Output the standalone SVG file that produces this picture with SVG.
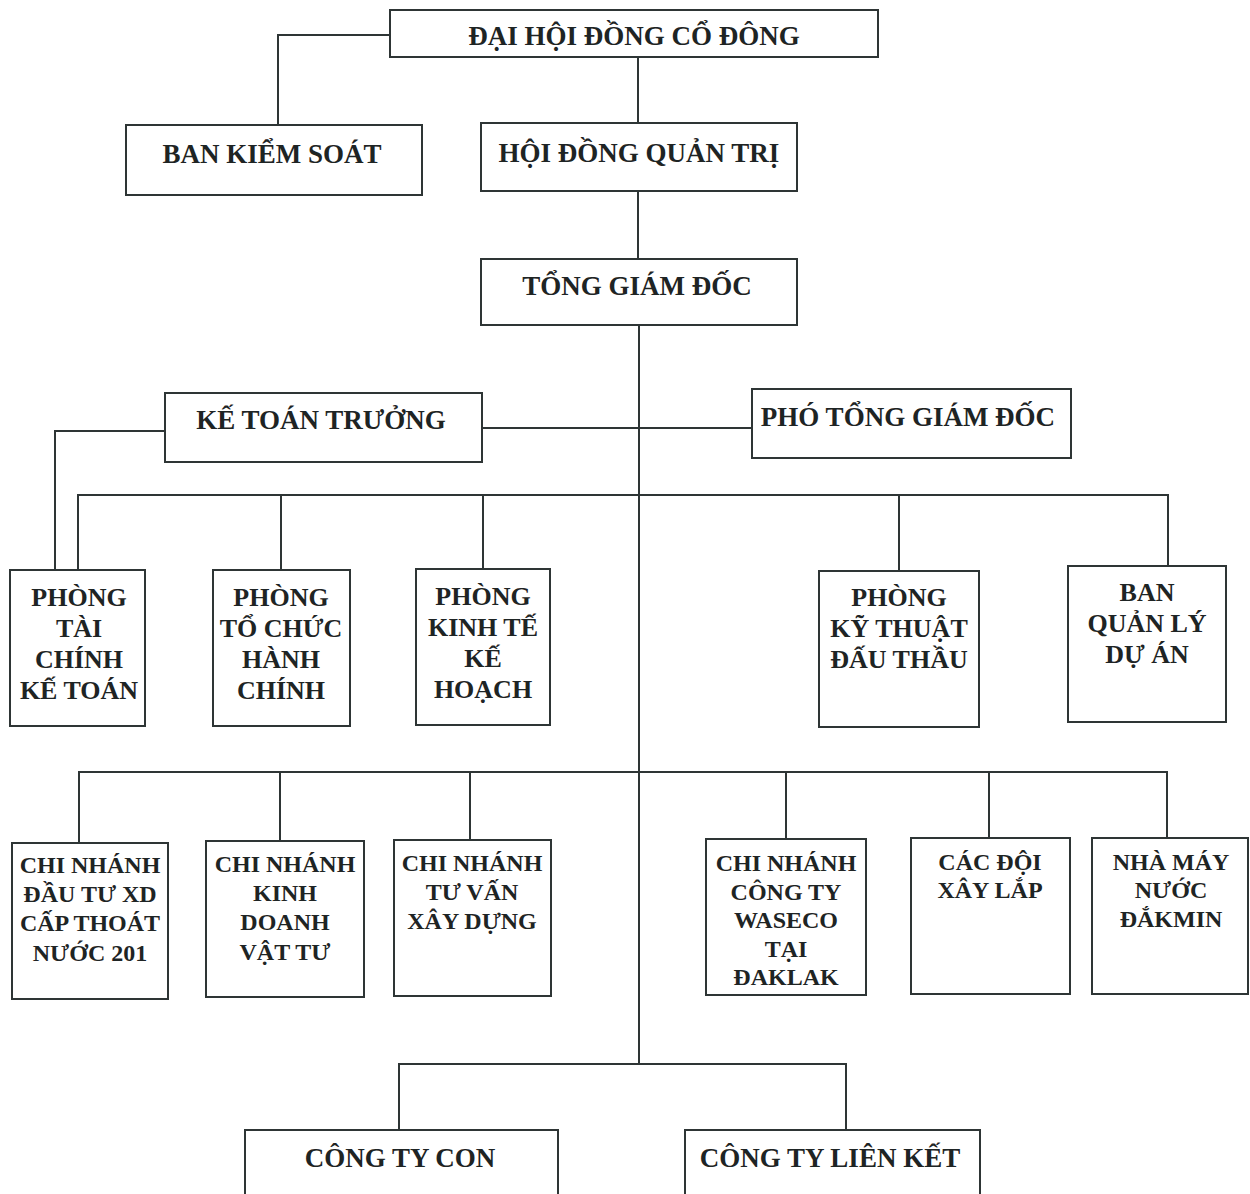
<svg xmlns="http://www.w3.org/2000/svg" width="1250" height="1194" viewBox="0 0 1250 1194">
<style>
.box{fill:#fff;stroke:#2e3535;stroke-width:2}
.ln{fill:none;stroke:#2e3535;stroke-width:2}
text{font-family:"Liberation Serif","Times New Roman",serif;font-weight:bold;fill:#1e2424;text-anchor:middle}
.t1{font-size:27px}
.t2{font-size:26px}
.t3{font-size:24px}
</style>
<rect width="1250" height="1194" fill="#fff"/>
<g id="connectors">
<polyline class="ln" points="390,35 278,35 278,125"/>
<line class="ln" x1="638" y1="57" x2="638" y2="123"/>
<line class="ln" x1="638" y1="191" x2="638" y2="259"/>
<line class="ln" x1="639" y1="325" x2="639" y2="1064"/>
<line class="ln" x1="482" y1="428" x2="752" y2="428"/>
<polyline class="ln" points="165,431 55,431 55,570"/>
<polyline class="ln" points="78,570 78,495 1168,495 1168,566"/>
<line class="ln" x1="281" y1="495" x2="281" y2="570"/>
<line class="ln" x1="483" y1="495" x2="483" y2="569"/>
<line class="ln" x1="899" y1="495" x2="899" y2="571"/>
<polyline class="ln" points="79,843 79,772 1167,772 1167,838"/>
<line class="ln" x1="280" y1="772" x2="280" y2="841"/>
<line class="ln" x1="470" y1="772" x2="470" y2="840"/>
<line class="ln" x1="786" y1="772" x2="786" y2="839"/>
<line class="ln" x1="989" y1="772" x2="989" y2="838"/>
<polyline class="ln" points="399,1130 399,1064 846,1064 846,1130"/>
</g>
<g id="dhdcd"><rect class="box" x="390" y="10" width="488" height="47"/><text class="t1" x="634" y="45">ĐẠI HỘI ĐỒNG CỔ ĐÔNG</text></g>
<g id="bks"><rect class="box" x="126" y="125" width="296" height="70"/><text class="t1" x="272" y="163">BAN KIỂM SOÁT</text></g>
<g id="hdqt"><rect class="box" x="481" y="123" width="316" height="68"/><text class="t1" x="639" y="162">HỘI ĐỒNG QUẢN TRỊ</text></g>
<g id="tgd"><rect class="box" x="481" y="259" width="316" height="66"/><text class="t1" x="637" y="295">TỔNG GIÁM ĐỐC</text></g>
<g id="ktt"><rect class="box" x="165" y="393" width="317" height="69"/><text class="t1" x="321" y="429">KẾ TOÁN TRƯỞNG</text></g>
<g id="ptgd"><rect class="box" x="752" y="389" width="319" height="69"/><text class="t1" x="908" y="426">PHÓ TỔNG GIÁM ĐỐC</text></g>
<g id="p-tckt"><rect class="box" x="10" y="570" width="135" height="156"/><text class="t2"><tspan x="79" y="606">PHÒNG</tspan><tspan x="79" y="637">TÀI</tspan><tspan x="79" y="668">CHÍNH</tspan><tspan x="79" y="699">KẾ TOÁN</tspan></text></g>
<g id="p-tchc"><rect class="box" x="213" y="570" width="137" height="156"/><text class="t2"><tspan x="281" y="606">PHÒNG</tspan><tspan x="281" y="637">TỔ CHỨC</tspan><tspan x="281" y="668">HÀNH</tspan><tspan x="281" y="699">CHÍNH</tspan></text></g>
<g id="p-ktkh"><rect class="box" x="416" y="569" width="134" height="156"/><text class="t2"><tspan x="483" y="605">PHÒNG</tspan><tspan x="483" y="636">KINH TẾ</tspan><tspan x="483" y="667">KẾ</tspan><tspan x="483" y="698">HOẠCH</tspan></text></g>
<g id="p-ktdt"><rect class="box" x="819" y="571" width="160" height="156"/><text class="t2"><tspan x="899" y="606">PHÒNG</tspan><tspan x="899" y="637">KỸ THUẬT</tspan><tspan x="899" y="668">ĐẤU THẦU</tspan></text></g>
<g id="bqlda"><rect class="box" x="1068" y="566" width="158" height="156"/><text class="t2"><tspan x="1147" y="601">BAN</tspan><tspan x="1147" y="632">QUẢN LÝ</tspan><tspan x="1147" y="663">DỰ ÁN</tspan></text></g>
<g id="cn-201"><rect class="box" x="12" y="843" width="156" height="156"/><text class="t3"><tspan x="90" y="873">CHI NHÁNH</tspan><tspan x="90" y="902">ĐẦU TƯ XD</tspan><tspan x="90" y="931">CẤP THOÁT</tspan><tspan x="90" y="961">NƯỚC 201</tspan></text></g>
<g id="cn-kdvt"><rect class="box" x="206" y="841" width="158" height="156"/><text class="t3"><tspan x="285" y="872">CHI NHÁNH</tspan><tspan x="285" y="901">KINH</tspan><tspan x="285" y="930">DOANH</tspan><tspan x="285" y="960">VẬT TƯ</tspan></text></g>
<g id="cn-tvxd"><rect class="box" x="394" y="840" width="157" height="156"/><text class="t3"><tspan x="472" y="871">CHI NHÁNH</tspan><tspan x="472" y="900">TƯ VẤN</tspan><tspan x="472" y="929">XÂY DỰNG</tspan></text></g>
<g id="cn-waseco"><rect class="box" x="706" y="839" width="160" height="156"/><text class="t3"><tspan x="786" y="871">CHI NHÁNH</tspan><tspan x="786" y="900">CÔNG TY</tspan><tspan x="786" y="928">WASECO</tspan><tspan x="786" y="957">TẠI</tspan><tspan x="786" y="985">ĐAKLAK</tspan></text></g>
<g id="cac-doi"><rect class="box" x="911" y="838" width="159" height="156"/><text class="t3"><tspan x="990" y="870">CÁC ĐỘI</tspan><tspan x="990" y="898">XÂY LẮP</tspan></text></g>
<g id="nha-may"><rect class="box" x="1092" y="838" width="156" height="156"/><text class="t3"><tspan x="1171" y="870">NHÀ MÁY</tspan><tspan x="1171" y="898">NƯỚC</tspan><tspan x="1171" y="927">ĐẮKMIN</tspan></text></g>
<g id="cty-con"><rect class="box" x="245" y="1130" width="313" height="80"/><text class="t1" x="400" y="1167">CÔNG TY CON</text></g>
<g id="cty-lk"><rect class="box" x="685" y="1130" width="295" height="80"/><text class="t1" x="830" y="1167">CÔNG TY LIÊN KẾT</text></g>
</svg>
